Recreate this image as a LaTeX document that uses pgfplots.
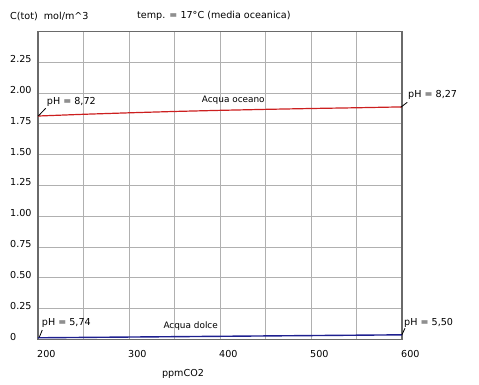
\documentclass[border=0pt]{standalone}
\usepackage{pgfplots}
\pgfplotsset{compat=1.18}
\usepackage{fontspec}
\setmainfont{DejaVu Sans}
\definecolor{gridc}{HTML}{B0B0B0}
\definecolor{framec}{HTML}{6A6A6A}
\definecolor{redl}{HTML}{CC1F1F}
\definecolor{bluel}{HTML}{1E2090}
\newcommand{\fA}{\fontsize{9.6bp}{11bp}\selectfont}
\newcommand{\fB}{\fontsize{8.9bp}{10bp}\selectfont}
\begin{document}
\begin{tikzpicture}[x=1bp,y=1bp]
\useasboundingbox (0,0) rectangle (479,384);
\begin{axis}[
  at={(38bp,44.5bp)}, anchor=south west,
  scale only axis, width=364bp, height=308bp,
  xmin=200, xmax=600, ymin=0, ymax=2.5,
  xtick={200,250,...,600},
  xticklabels={200,,300,,400,,500,,600},
  ytick={0,0.25,...,2.25},
  yticklabels={0,0.25,0.50,0.75,1.00,1.25,1.50,1.75,2.00,2.25},
  major tick length=0pt,
  grid=major,
  major grid style={draw=gridc, line width=0.9bp},
  axis line style={draw=framec, line width=1.6bp},
  xticklabel style={font=\fA, anchor=north west, inner sep=0pt, yshift=-10.5bp, xshift=-1bp},
  yticklabel style={font=\fA, anchor=west, inner sep=0pt, xshift=-28bp, yshift=3bp},
  clip=false,
]
\addplot[redl, line width=1.2bp] coordinates {
 (200,1.814) (250,1.828) (300,1.840) (350,1.851) (400,1.860) (450,1.868) (500,1.875) (550,1.881) (600,1.888)};
\addplot[bluel, line width=1.4bp] coordinates {
 (200,0.014) (300,0.020) (400,0.026) (500,0.032) (600,0.038)};
\draw[black, line width=0.8bp] (axis cs:200.3,1.814) -- (axis cs:208.5,1.877);
\draw[black, line width=0.8bp] (axis cs:598.6,1.885) -- (axis cs:605.8,1.925);
\draw[black, line width=0.8bp] (axis cs:201.4,0.018) -- (axis cs:204.7,0.077);
\draw[black, line width=0.8bp] (axis cs:599.7,0.037) -- (axis cs:603.3,0.091);
\node[font=\fA, anchor=west, inner sep=0pt] at (axis cs:209.6,1.93) {pH = 8,72};
\node[font=\fB, anchor=west, inner sep=0pt] at (axis cs:379.9,1.946) {Acqua oceano};
\node[font=\fA, anchor=west, inner sep=0pt] at (axis cs:606.6,1.985) {pH = 8,27};
\node[font=\fA, anchor=west, inner sep=0pt] at (axis cs:204.1,0.136) {pH = 5,74};
\node[font=\fB, anchor=west, inner sep=0pt] at (axis cs:337.7,0.110) {Acqua dolce};
\node[font=\fA, anchor=west, inner sep=0pt] at (axis cs:602.2,0.131) {pH = 5,50};
\end{axis}
\node[font=\fA, anchor=west, inner sep=0pt] at (10,368) {C(tot)\ \ mol/m\textasciicircum 3};
\node[font=\fA, anchor=west, inner sep=0pt] at (137,368) {temp. = 17°C (media oceanica)};
\node[font=\fA, inner sep=0pt] at (183,10) {ppmCO2};
\end{tikzpicture}
\end{document}
